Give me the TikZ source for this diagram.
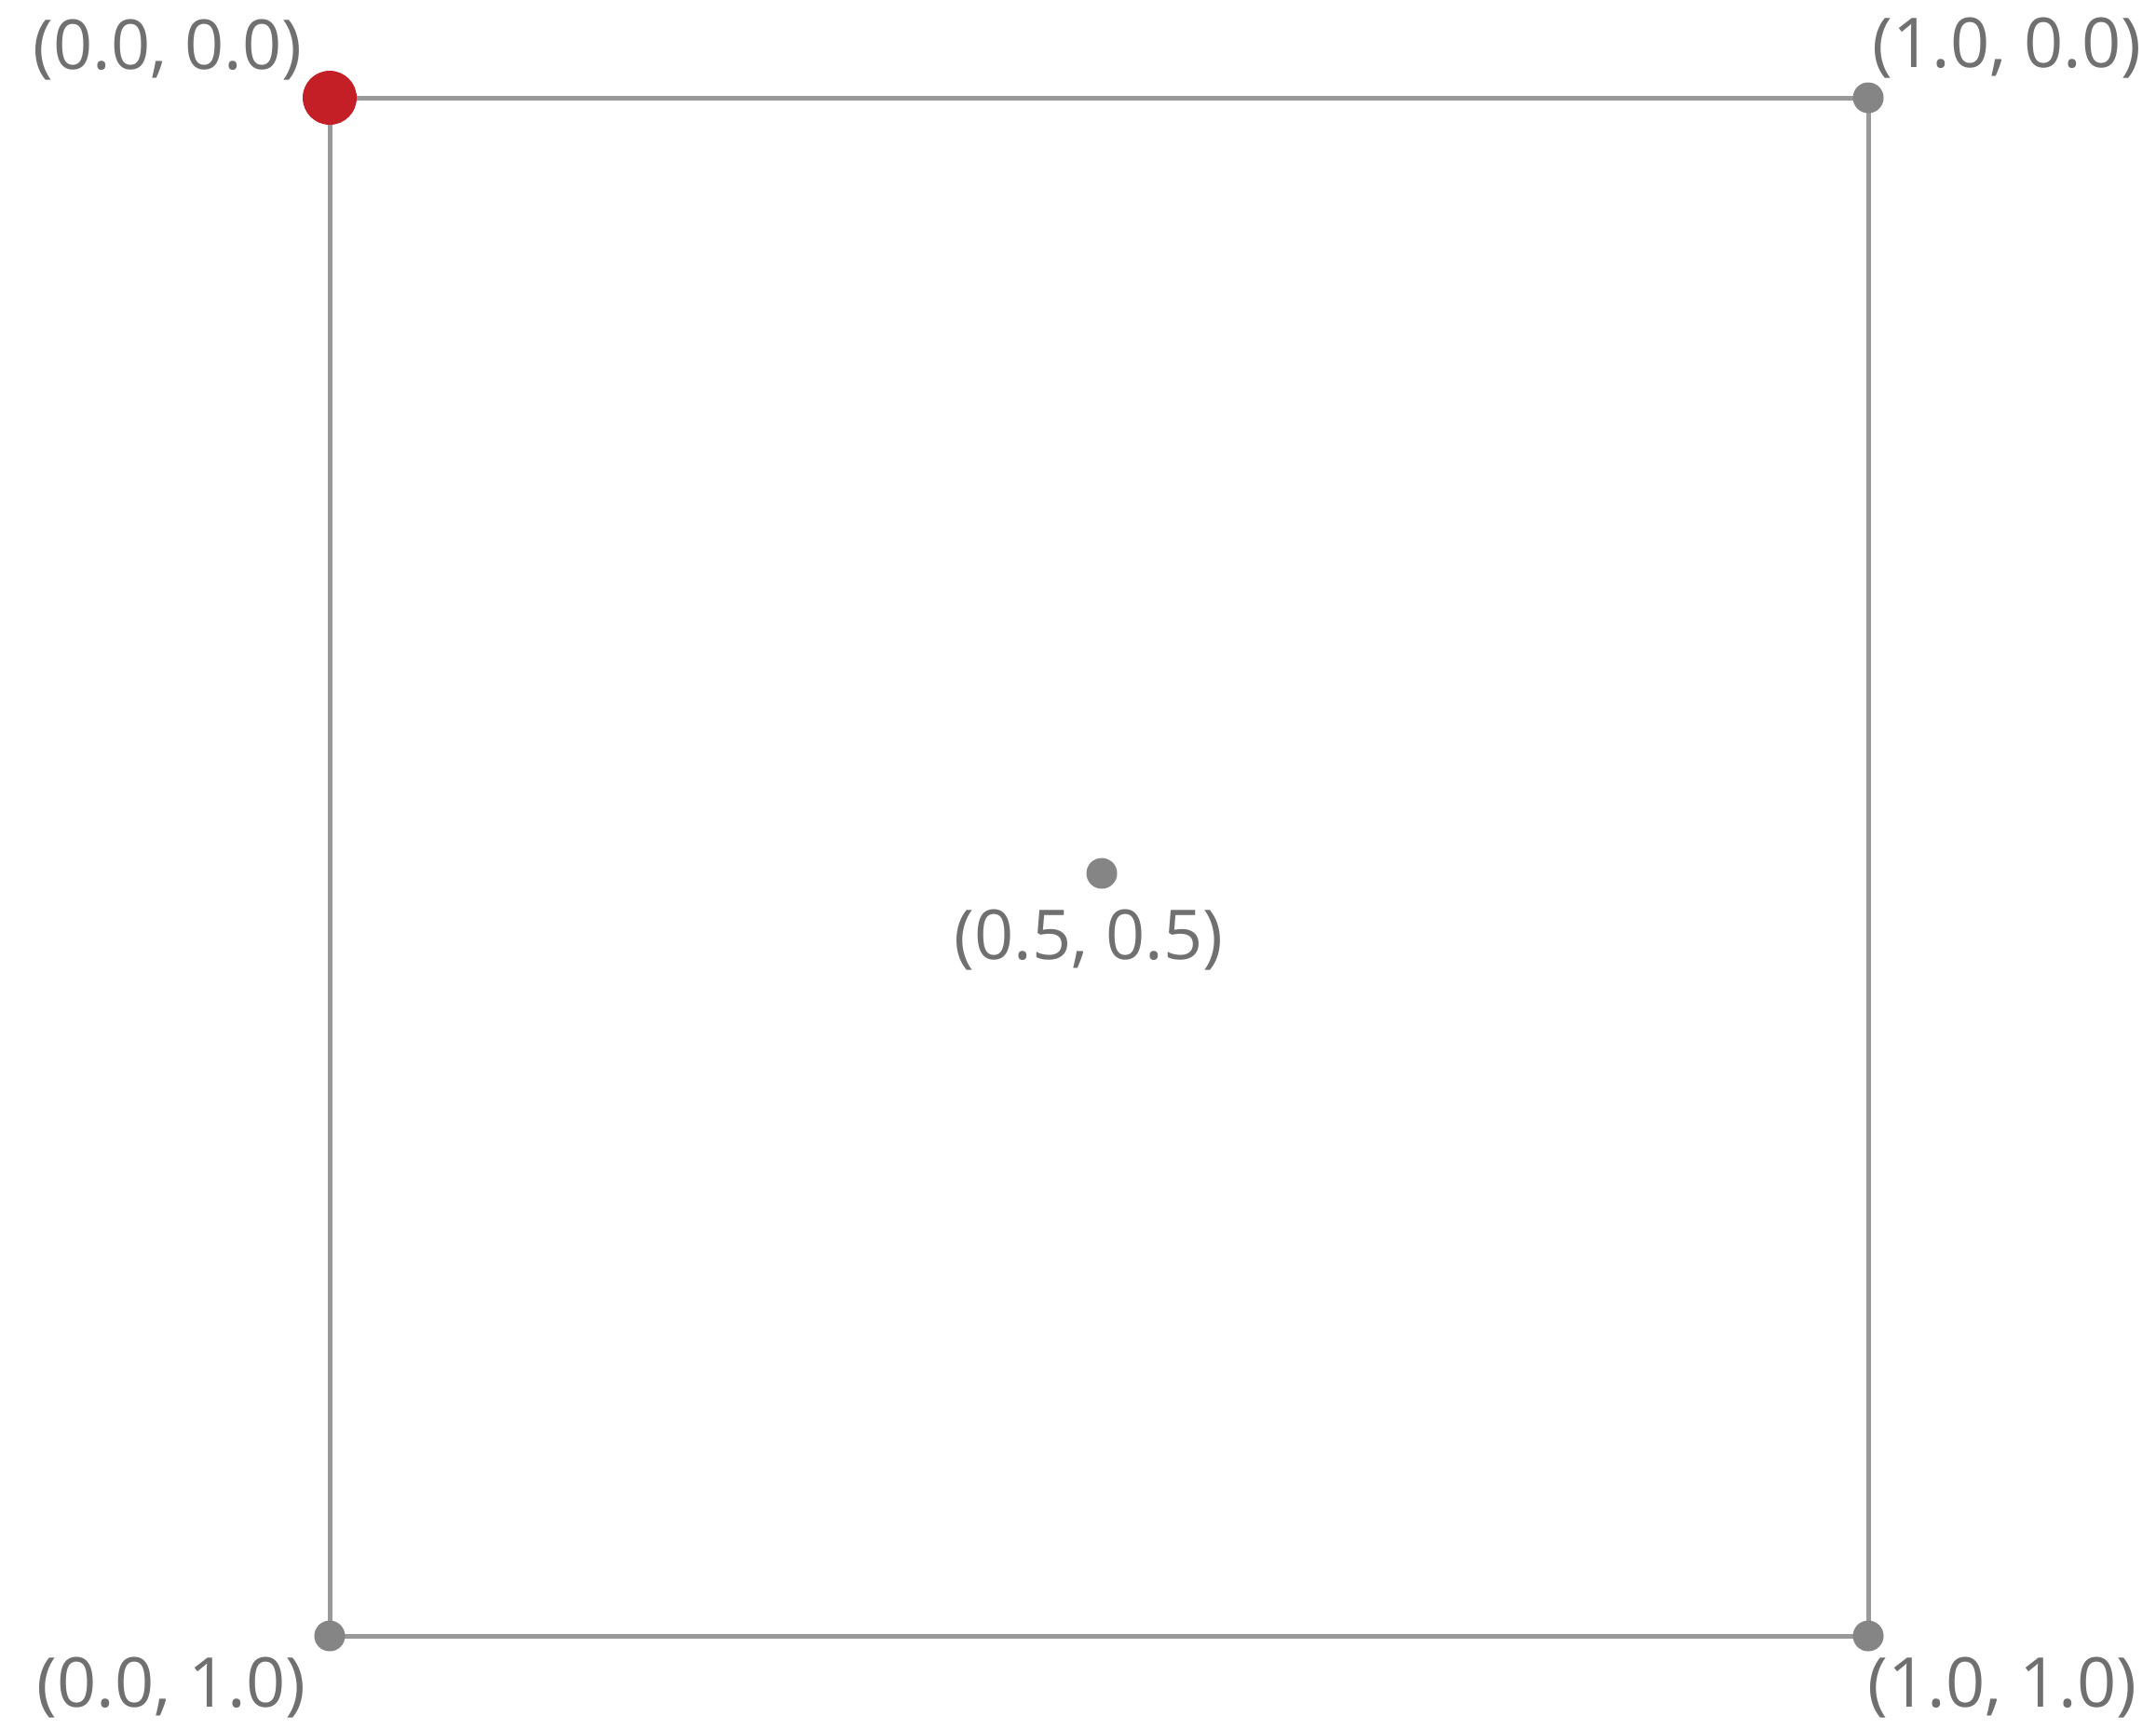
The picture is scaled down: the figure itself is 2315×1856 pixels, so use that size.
\documentclass[tikz,border=0pt]{standalone}
\usepackage{fontspec}
\setmainfont{Open Sans}
\definecolor{linegray}{HTML}{999999}
\definecolor{dotgray}{HTML}{858585}
\definecolor{textgray}{HTML}{707070}
\definecolor{reddot}{HTML}{C41F26}
\begin{document}
\begin{tikzpicture}[x=0.01cm,y=-0.01cm,
  edge/.style={draw=linegray,line width=0.05cm},
  gdot/.style={circle,fill=dotgray,inner sep=0pt,minimum size=0.33cm},
  rdot/.style={circle,fill=reddot,inner sep=0pt,minimum size=0.58cm},
  lbl/.style={text=textgray,font=\fontsize{21}{25}\selectfont,anchor=base,inner sep=0pt}]
\useasboundingbox (0,0) rectangle (2315,1856);
\coordinate (tl) at (354,105);
\coordinate (tr) at (2006,105);
\coordinate (bl) at (354,1757);
\coordinate (br) at (2006,1757);
\draw[edge] (tl) -- (tr) -- (br) -- (bl) -- cycle;
\node[rdot] (ptl) at (tl) {};
\node[gdot] (ptr) at (tr) {};
\node[gdot] (pbl) at (bl) {};
\node[gdot] (pbr) at (br) {};
\node[gdot] (pc) at (1183,938) {};
\node[lbl] (ltl) at (180,74) {(0.0, 0.0)};
\node[lbl] (ltr) at (2155,72) {(1.0, 0.0)};
\node[lbl] (lbl1) at (184,1833) {(0.0, 1.0)};
\node[lbl] (lbr) at (2150,1833) {(1.0, 1.0)};
\node[lbl] (lc) at (1169,1030) {(0.5, 0.5)};
\end{tikzpicture}
\end{document}
